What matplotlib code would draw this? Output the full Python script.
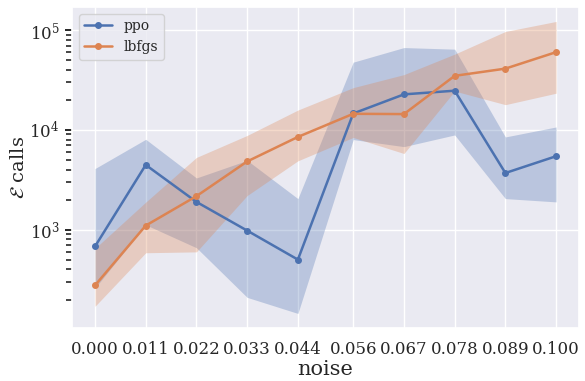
import matplotlib
matplotlib.use("Agg")
import matplotlib.pyplot as plt
from matplotlib.ticker import LogLocator, NullFormatter
import seaborn as sns

# noise levels (rounded to 3 decimals)
noise = [0.0, 0.011, 0.022, 0.033, 0.044, 0.056, 0.067, 0.078, 0.089, 0.1]
tick_labels = ["0.000", "0.011", "0.022", "0.033", "0.044",
               "0.056", "0.067", "0.078", "0.089", "0.100"]

# mean number of energy calls and band limits per method
ppo_mean = [680, 4460, 1900, 980, 502, 14600, 22700, 24700, 3700, 5450]
ppo_low = [260, 1120, 660, 210, 145, 8000, 6800, 8900, 2050, 1900]
ppo_high = [4100, 8050, 3300, 4950, 2050, 47700, 66800, 64400, 8500, 10700]

lbfgs_mean = [277, 1100, 2170, 4830, 8500, 14500, 14400, 34800, 41100, 60100]
lbfgs_low = [171, 588, 600, 2200, 4900, 8400, 5800, 24500, 17900, 23300]
lbfgs_high = [650, 1890, 5300, 8800, 15800, 26500, 35800, 57400, 96800, 122000]

sns.set_theme(style="darkgrid", font="serif")
plt.rcParams["font.family"] = ["DejaVu Serif"]
plt.rcParams["mathtext.fontset"] = "dejavuserif"
plt.rcParams.update({
    "ytick.left": True,
    "ytick.major.size": 5,
    "ytick.minor.size": 4,
    "ytick.major.width": 1.4,
    "ytick.minor.width": 1.2,
    "ytick.color": "#262626",
})

fig, ax = plt.subplots(figsize=(5.85, 3.81), dpi=100)
fig.subplots_adjust(left=0.123, right=0.990, bottom=0.139, top=0.982)

pal = sns.color_palette("deep")
for name, mean, low, high, c in [("ppo", ppo_mean, ppo_low, ppo_high, pal[0]),
                                 ("lbfgs", lbfgs_mean, lbfgs_low, lbfgs_high, pal[1])]:
    ax.plot(noise, mean, marker="o", markersize=4, lw=1.8, color=c, label=name)
    ax.fill_between(noise, low, high, color=c, alpha=0.3, lw=0)

ax.set_yscale("log")
ax.yaxis.set_minor_locator(LogLocator(base=10, subs=[2, 3, 4, 5, 6, 7, 8, 9], numticks=50))
ax.yaxis.set_minor_formatter(NullFormatter())
ax.set_xticks(noise)
ax.set_xticklabels(tick_labels)
ax.tick_params(axis="x", labelsize=12, pad=3)
ax.tick_params(axis="y", which="major", labelsize=12, pad=4)
ax.grid(which="minor", visible=False)
ax.set_xlabel("noise", fontsize=15, labelpad=2)
ax.set_ylabel(r"$\mathcal{E}$ calls", fontsize=14, labelpad=1)
ax.legend(loc="upper left", fontsize=10, frameon=True)

fig.savefig("out.png")
